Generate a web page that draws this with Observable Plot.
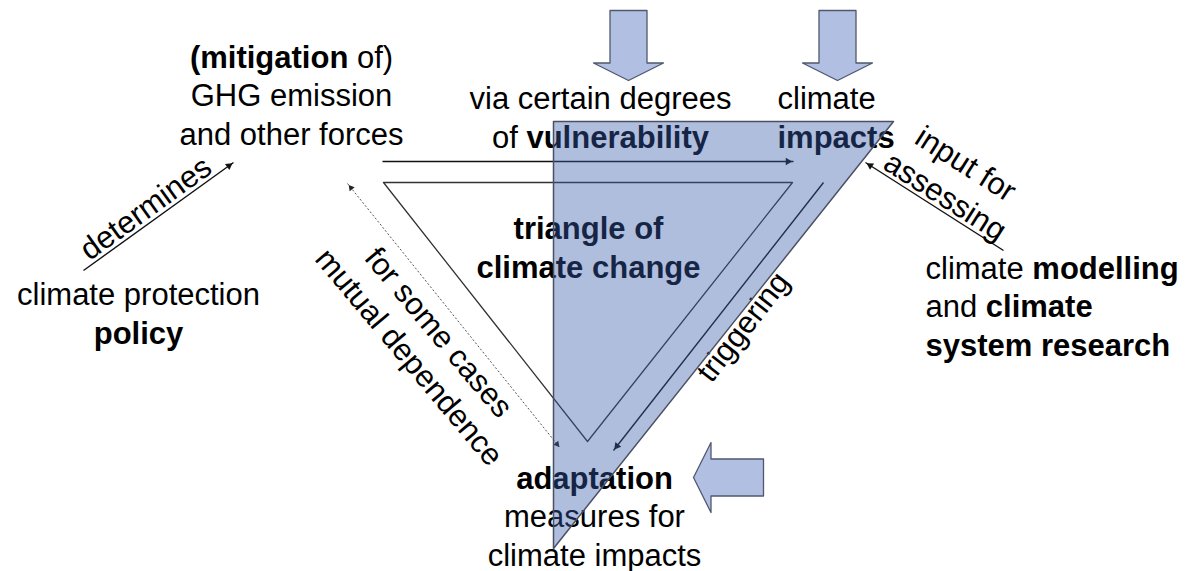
<!DOCTYPE html>
<html>
<head>
<meta charset="utf-8">
<script src="https://cdn.jsdelivr.net/npm/d3@7"></script>
<script src="https://cdn.jsdelivr.net/npm/@observablehq/plot@0.6"></script>
<style>
  html, body { margin: 0; padding: 0; background: #ffffff; }
  #chart svg { display: block; }
</style>
</head>
<body>
<div id="chart"></div>
<script>
// ---------- Diagram data (diagram units, y grows downward) ----------
// Text blocks (*...* marks bold words); y = baseline of the last line
const labelText = [
  "*(mitigation* of)\nGHG emission\nand other forces",
  "via certain degrees\nof *vulnerability*",
  "climate\n*impacts*",
  "*triangle of*\n*climate change*",
  "climate protection\n*policy*",
  "climate *modelling*\nand *climate*\n*system research*",
  "*adaptation*\nmeasures for\nclimate impacts"
];
const labelX = [291, 600, 777, 588, 138, 925, 594];
const labelY = [144, 147, 147, 277, 343, 355, 565];
const labelAnchor = ["middle", "middle", "start", "middle", "middle", "start", "middle"];

// Rotated relation labels (centre of the label block)
const relText = ["determines", "input for\nassessing", "for some cases\nmutual dependence", "triggering"];
const relX = [144, 956, 425, 741];
const relY = [206, 178, 343, 325];
const relAngle = [-35.8, 32.5, 50, -52];

// Thin relation arrows (from -> to)
const arrowX1 = [83, 382, 1003, 823];
const arrowY1 = [270, 161, 250, 182];
const arrowX2 = [233, 793, 865, 613];
const arrowY2 = [162, 161, 162, 450];

// Dotted two-way arrow (mutual dependence)
const dottedX = [347, 560];
const dottedY = [183, 448];

// Inner outlined triangle ("triangle of climate change")
const innerX = [383, 792, 587];
const innerY = [182, 182, 441];

// Shaded triangle
const shadeX = [553, 893, 553];
const shadeY = [121, 121, 548];

// Block arrows: tip position and pointing direction
const blockTipX = [628, 837, 693];
const blockTipY = [80, 80, 477];
const blockDir = ["down", "down", "left"];

// ---------- build tables ----------
const labels = labelText.map((t, i) => ({text: t, x: labelX[i], y: labelY[i], anchor: labelAnchor[i]}));
const rels = relText.map((t, i) => ({text: t, x: relX[i], y: relY[i], angle: relAngle[i]}));
const arrows = arrowX1.map((x1, i) => ({x1, y1: arrowY1[i], x2: arrowX2[i], y2: arrowY2[i]}));

function closed(xs, ys, id) {
  const pts = xs.map((x, i) => ({x, y: ys[i], id}));
  pts.push({...pts[0]});
  return pts;
}
const innerTri = closed(innerX, innerY, "inner");
const shadeTri = closed(shadeX, shadeY, "shade");

// block arrow geometry (shape proportions)
const bLen = 70, bHead = 17.5, bHeadHalf = 35, bShaftHalf = 18.5;
const dirVec = {down: [0, 1], up: [0, -1], left: [-1, 0], right: [1, 0]};
const blockPts = [];
blockTipX.forEach((tx, i) => {
  const [dx, dy] = dirVec[blockDir[i]];
  const nx = -dy, ny = dx;
  const local = [[0, 0], [bHead, bHeadHalf], [bHead, bShaftHalf], [bLen, bShaftHalf],
                 [bLen, -bShaftHalf], [bHead, -bShaftHalf], [bHead, -bHeadHalf], [0, 0]];
  for (const [a, p] of local) {
    blockPts.push({x: tx - dx * a + nx * p, y: blockTipY[i] - dy * a + ny * p, id: i});
  }
});

// filled arrowheads (triangle symbols) at arrow tips
const HEAD_R = 3.6;
const headOffset = 2 * Math.sqrt(Math.PI * HEAD_R * HEAD_R / (3 * Math.sqrt(3)));
function head(xFrom, yFrom, xTip, yTip) {
  const L = Math.hypot(xTip - xFrom, yTip - yFrom);
  const ux = (xTip - xFrom) / L, uy = (yTip - yFrom) / L;
  return {x: xTip - ux * headOffset, y: yTip - uy * headOffset, angle: Math.atan2(ux, -uy) * 180 / Math.PI};
}
const heads = arrows.map(a => head(a.x1, a.y1, a.x2, a.y2));
const dottedHeads = [head(dottedX[1], dottedY[1], dottedX[0], dottedY[0]),
                     head(dottedX[0], dottedY[0], dottedX[1], dottedY[1])];

const FONT = 31, LH = 1.24;

const chart = Plot.plot({
  width: 1187,
  height: 571,
  margin: 0,
  x: {domain: [0, 1187], range: [0, 1187], axis: null},
  y: {domain: [0, 571], range: [0, 571], axis: null},
  style: {fontFamily: "'Liberation Sans', Arial, sans-serif", background: "#ffffff", overflow: "visible"},
  marks: [
    // block arrows
    Plot.line(blockPts, {x: "x", y: "y", z: "id", fill: "#b1bfe2", stroke: "#4f586e", strokeWidth: 1.3}),
    // inner triangle outline
    Plot.line(innerTri, {x: "x", y: "y", z: "id", stroke: "#333", strokeWidth: 1.3}),
    // relation arrows: shafts + filled heads
    Plot.link(arrows, {x1: "x1", y1: "y1", x2: "x2", y2: "y2", stroke: "#111", strokeWidth: 1.4}),
    Plot.dot(heads, {x: "x", y: "y", rotate: "angle", symbol: "triangle2", r: HEAD_R, fill: "#111", stroke: "none"}),
    // dotted two-way arrow
    Plot.link([{x1: dottedX[0], y1: dottedY[0], x2: dottedX[1], y2: dottedY[1]}],
      {x1: "x1", y1: "y1", x2: "x2", y2: "y2", stroke: "#555", strokeWidth: 1, strokeDasharray: "2,2"}),
    Plot.dot(dottedHeads, {x: "x", y: "y", rotate: "angle", symbol: "triangle2", r: HEAD_R * 0.85, fill: "#222", stroke: "none"}),
    // text blocks
    Plot.text(labels.filter(d => d.anchor === "middle"), {x: "x", y: "y", text: "text", textAnchor: "middle",
      lineAnchor: "bottom", lineHeight: LH, fontSize: FONT, fill: "#000"}),
    Plot.text(labels.filter(d => d.anchor === "start"), {x: "x", y: "y", text: "text", textAnchor: "start",
      lineAnchor: "bottom", lineHeight: LH, fontSize: FONT, fill: "#000"}),
    // rotated relation labels
    Plot.text(rels, {x: "x", y: "y", text: "text", rotate: "angle", textAnchor: "middle",
      lineAnchor: "middle", lineHeight: LH, fontSize: FONT, fill: "#000"}),
    // shaded triangle laid over everything
    Plot.line(shadeTri, {x: "x", y: "y", z: "id", fill: "#3a5cac", fillOpacity: 0.4, stroke: "#4a5064", strokeWidth: 1.5})
  ]
});

// bold segments marked with *...*
const SVGNS = "http://www.w3.org/2000/svg";
[...chart.querySelectorAll("text, tspan")]
  .filter(el => el.children.length === 0 && el.textContent.includes("*"))
  .forEach(el => {
    const parts = el.textContent.split("*");
    el.textContent = "";
    parts.forEach((p, i) => {
      if (!p) return;
      if (i % 2 === 1) {
        const t = document.createElementNS(SVGNS, "tspan");
        t.setAttribute("font-weight", "bold");
        t.textContent = p;
        el.appendChild(t);
      } else {
        el.appendChild(document.createTextNode(p));
      }
    });
  });

document.getElementById("chart").appendChild(chart);
</script>
</body>
</html>
